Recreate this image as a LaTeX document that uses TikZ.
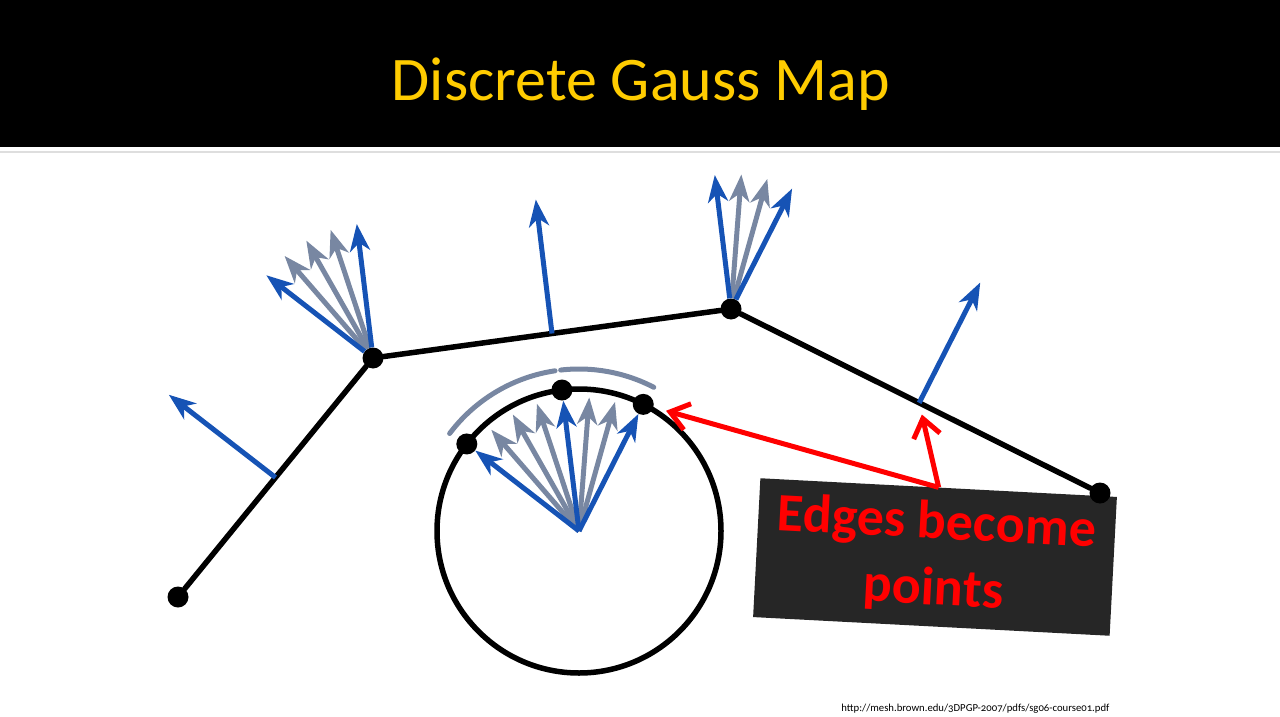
\documentclass[tikz,border=0pt]{standalone}
\usepackage{fontspec}
\setmainfont{Carlito}
\newfontfamily\urlfont[Numbers=OldStyle]{Carlito}
\usepackage{xcolor}
\definecolor{ColBlue}{RGB}{22,83,181}
\definecolor{ColGrey}{RGB}{120,135,162}
\definecolor{ColRed}{RGB}{255,0,0}
\definecolor{ColTitle}{RGB}{255,204,0}
\definecolor{ColBox}{RGB}{38,38,38}
\definecolor{ColRule}{RGB}{222,222,222}
\usepackage{tikz}
\usetikzlibrary{arrows.meta}
\usetikzlibrary{calc}
\tikzstyle{Title}=[text=ColTitle,anchor=base,font=\fontsize{62}{70}\selectfont]
\tikzstyle{Dot}=[circle,fill=black,inner sep=0pt,minimum size=21pt]
\tikzstyle{Edge}=[draw=black,line width=5.5pt,line cap=round,line join=round]
\tikzstyle{Normal}=[draw=ColBlue,line width=5pt,-{Stealth[length=27pt,width=20pt,inset=8pt]}]
\tikzstyle{Blend}=[Normal,draw=ColGrey]
\tikzstyle{Arc}=[draw=ColGrey,line width=5pt,line cap=round]
\tikzstyle{Pointer}=[draw=ColRed,line width=5pt,-{Straight Barb[length=18pt,width=27pt]}]
\tikzstyle{Label}=[fill=ColBox,text=ColRed,align=center,inner sep=0pt,
minimum width=357pt,minimum height=139pt,font=\bfseries\fontsize{54}{66}\selectfont]
\tikzstyle{Source}=[anchor=base east,font=\urlfont\fontsize{10.7}{12}\selectfont]

\begin{document}
\begin{tikzpicture}[x=1pt,y=-1pt]
        \useasboundingbox(0,0)rectangle(1280,717);
        \fill[black](0,0)rectangle(1280,147);
        \draw[ColRule,line width=2pt](0,152)--(1280,152);
        \node[Title](title)at(641,100){Discrete Gauss Map};
        \node[Label,rotate=-3](label)at(935,557){Edges become\\points};
        \node[Dot](P1)at(178,597){};
        \node[Dot](P2)at(373,358){};
        \node[Dot](P3)at(731,309){};
        \node[Dot](P4)at(1100,493){};
        \draw[Edge](P1)--(P2);
        \draw[Edge](P2)--(P3);
        \draw[Edge](P3)--(P4);
        \coordinate(m1)at($(P1)!0.5!(P2)$);
        \coordinate(m2)at($(P2)!0.5!(P3)$);
        \coordinate(m3)at($(P3)!0.51!(P4)$);
        \foreach \e/\a in {1/142.2,2/96.9,3/63.1}{
            \coordinate(n\e)at($(m\e)+(-\a:135)$);
            \draw[Normal](m\e)--(n\e);
        }
        \foreach \a[count=\i] in {142.2,130.9,119.6,108.3,96.9}
            \coordinate(f\i)at($(P2)+(-\a:135)$);
        \foreach \i in {2,3,4}\draw[Blend](P2)--(f\i);
        \foreach \i in {1,5}\draw[Normal](P2)--(f\i);
        \foreach \a[count=\i] in {96.9,85.6,74.4,63.1}
            \coordinate(h\i)at($(P3)+(-\a:135)$);
        \foreach \i in {2,3}\draw[Blend](P3)--(h\i);
        \foreach \i in {1,4}\draw[Normal](P3)--(h\i);
        \coordinate(O)at(579,531);
        \draw[Edge](O)circle[radius=142];
        \foreach \a[count=\i] in {142.2,96.9,63.1}
            \node[Dot](g\i)at($(O)+(-\a:142)$){};
        \draw[Arc]($(O)+(-143:162)$)arc[start angle=-143,end angle=-98.5,radius=162];
        \draw[Arc]($(O)+(-96.5:162)$)arc[start angle=-96.5,end angle=-62.5,radius=162];
        \foreach \a[count=\i] in {130.9,119.6,108.3,85.6,74.4}{
            \coordinate(c\i)at($(O)+(-\a:134)$);
            \draw[Blend](O)--(c\i);
        }
        \draw[Normal](O)--(g1);
        \draw[Normal](O)--(g2);
        \draw[Normal](O)--(g3);
        \draw[Pointer,shorten >=13pt](label.north)--(g3);
        \draw[Pointer,shorten >=12pt](label.north)--(m3);
        \node[Source](src)at(1113,711){http://mesh.brown.edu/3DPGP-2007/pdfs/sg06-course01.pdf};
    \end{tikzpicture}
\end{document}
